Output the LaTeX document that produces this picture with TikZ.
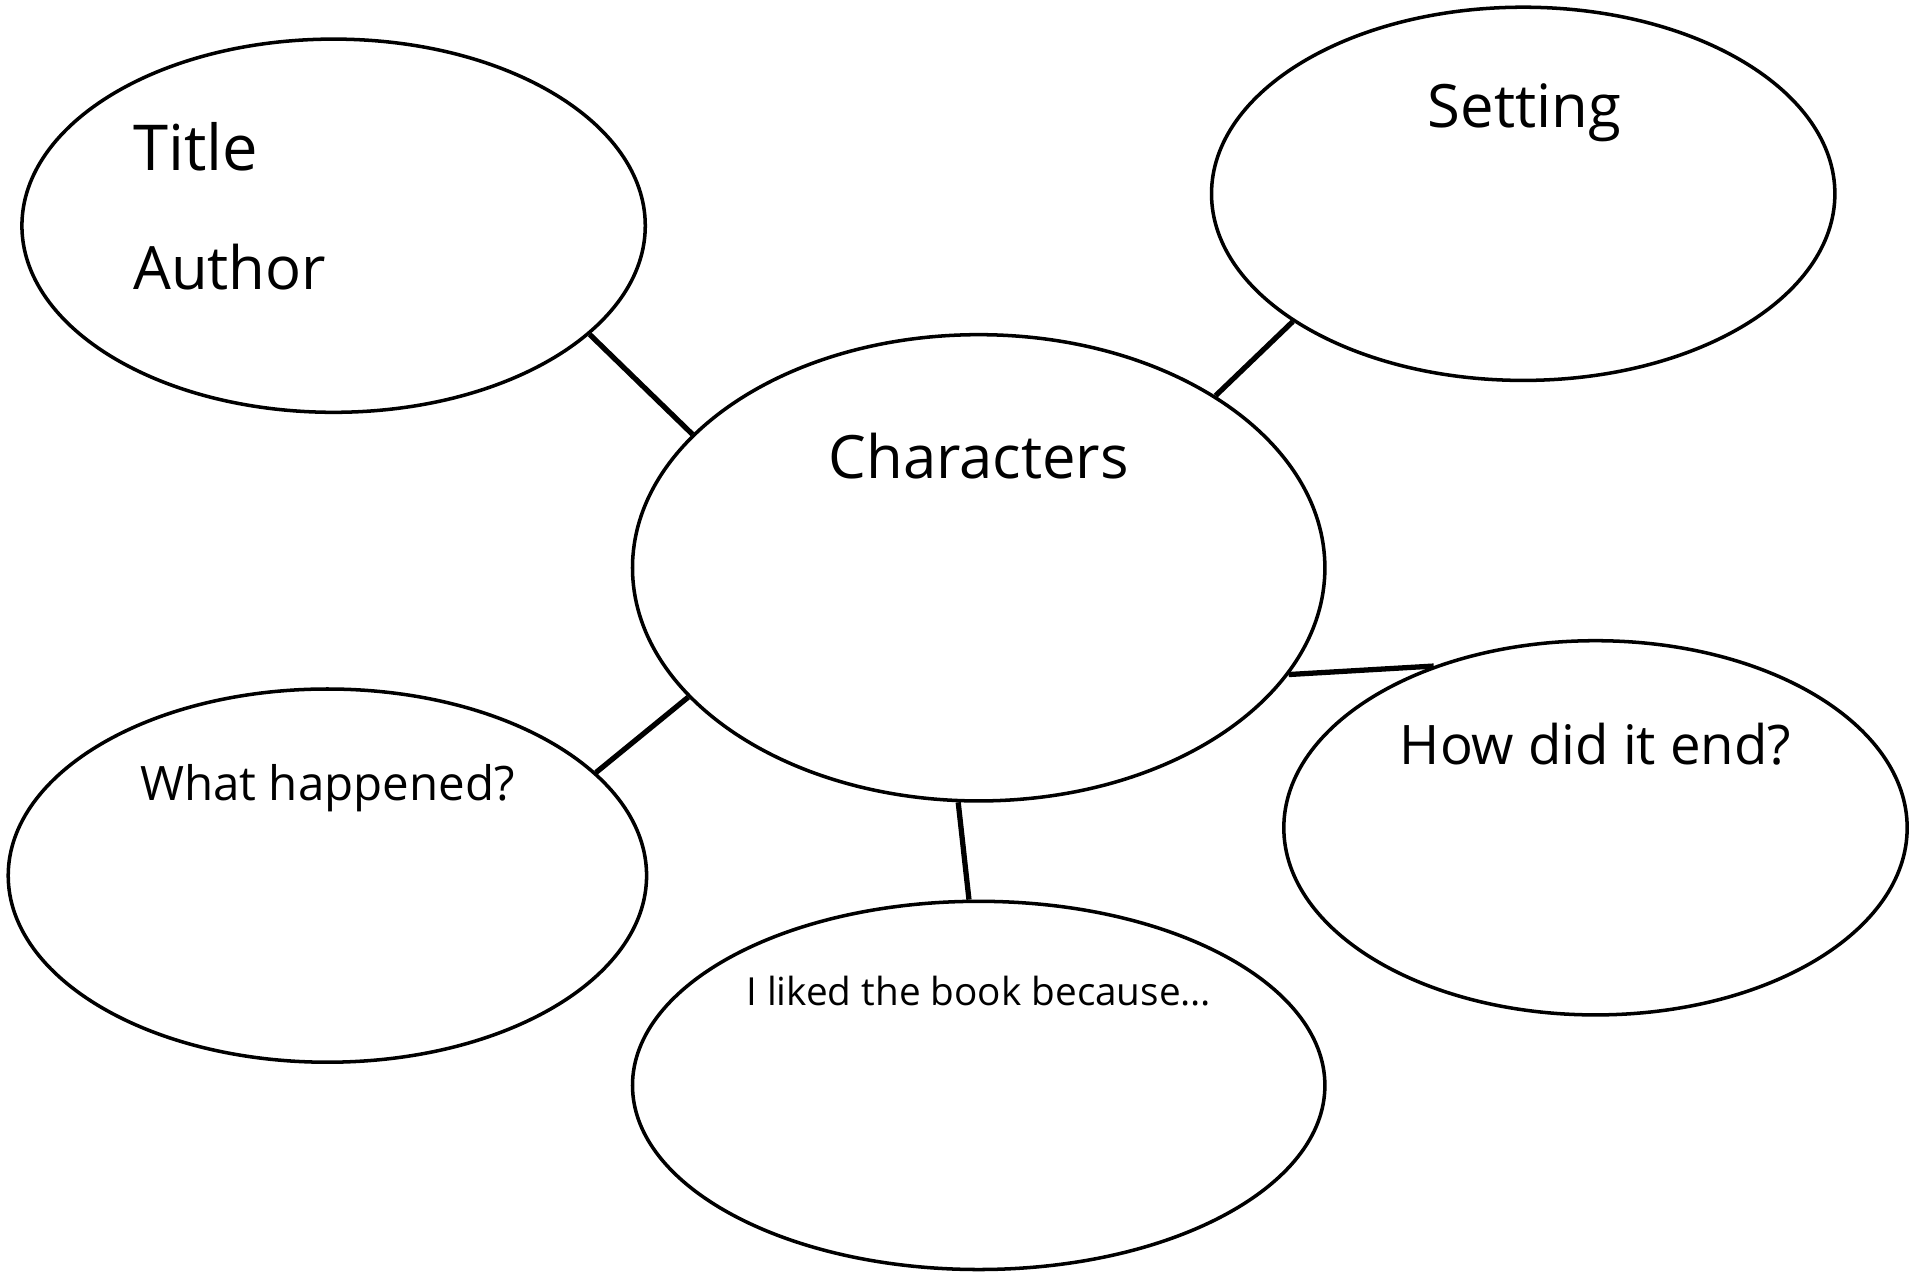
\documentclass[tikz,border=0pt]{standalone}
\usepackage{fontspec}
\setmainfont{Open Sans}
\usetikzlibrary{shapes.geometric}

\tikzset{
  bubble/.style={draw, ellipse, line width=1pt, inner sep=0pt},
  spoke/.style={line width=1.5pt},
  lbl/.style={inner sep=0pt, font=\fontsize{17}{20}\selectfont}
}

\begin{document}
\begin{tikzpicture}[x=0.01cm, y=-0.01cm]
        \useasboundingbox (0,0) rectangle (1923,1272);

        % Draw the bubbles
        \node[bubble, minimum width=6.23cm, minimum height=3.73cm] (title) at (333.6,225.7) {};
        \node[bubble, minimum width=6.23cm, minimum height=3.73cm] (setting) at (1523.2,193.8) {};
        \node[bubble, minimum width=6.92cm, minimum height=4.66cm] (chars) at (978.7,567.8) {};
        \node[bubble, minimum width=6.38cm, minimum height=3.73cm] (happened) at (327.4,875.6) {};
        \node[bubble, minimum width=6.92cm, minimum height=3.68cm] (liked) at (978.7,1085.4) {};
        \node[bubble, minimum width=6.23cm, minimum height=3.74cm] (ending) at (1595.5,827.8) {};

        % Label the bubbles
        \node[lbl, anchor=west, font=\fontsize{18}{21}\selectfont] (titlelbl) at (132.5,147) {Title};
        \node[lbl, anchor=west] (authorlbl) at (132.5,267.4) {Author};
        \node[lbl] (settinglbl) at (1524.4,112.8) {Setting};
        \node[lbl] (charslbl) at (978.7,456.2) {Characters};
        \node[lbl, font=\fontsize{13.5}{16}\selectfont] (happenedlbl) at (327.4,788.6) {What happened?};
        \node[lbl, font=\fontsize{15.5}{18}\selectfont] (endinglbl) at (1595.5,744.4) {How did it end?};
        \node[lbl, font=\fontsize{11}{13}\selectfont] (likedlbl) at (978.7,991) {I liked the book because…};

        % Draw the spokes
        \draw[spoke] (chars.155.5) -- (title.-23.9);
        \draw[spoke] (chars.36.6) -- (setting.209.3);
        \draw[spoke] (chars.-19.4) -- (ending.135.7);
        \draw[spoke] (chars.204) -- (happened.21.5);
        \draw[spoke] (chars.265.2) -- (liked.93.5);
    \end{tikzpicture}
\end{document}
